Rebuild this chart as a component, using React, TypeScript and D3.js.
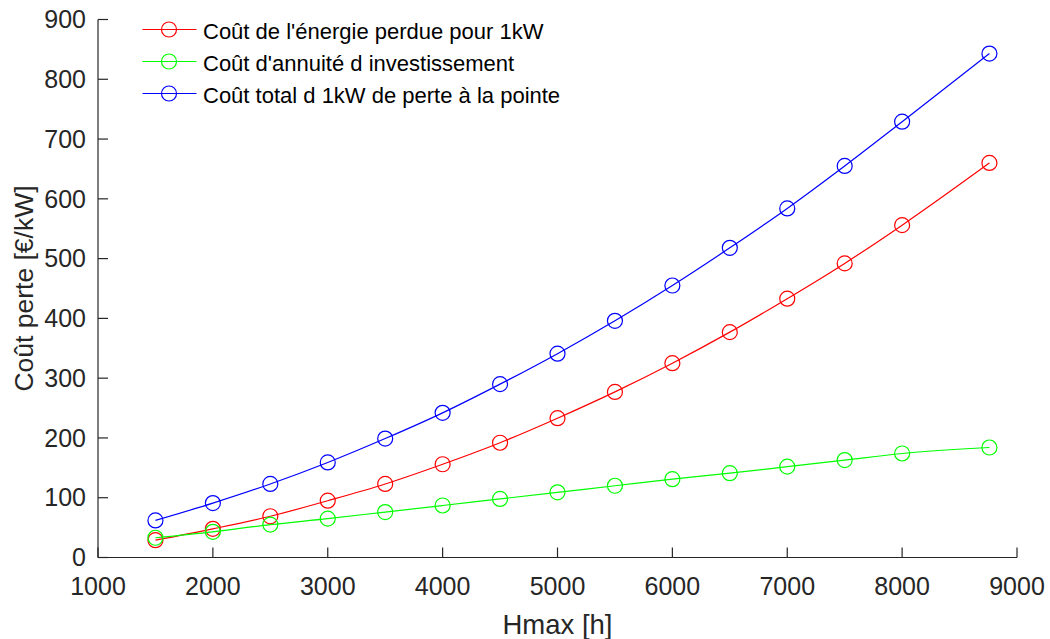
import * as d3 from "d3";

const hours = [1500, 2000, 2500, 3000, 3500, 4000, 4500, 5000, 5500, 6000, 6500, 7000, 7500, 8000, 8760];
const energyCost = [29, 48, 69, 95, 123, 156, 192, 233, 277, 325, 377, 433, 492, 556, 660];
const annuityCost = [33, 43, 55, 65, 76, 87, 98, 109, 120, 131, 141, 152, 163, 174, 184];
const totalCost = [62, 91, 123, 159, 199, 242, 290, 341, 396, 455, 518, 584, 655, 729, 843];

const xTicks = [1000, 2000, 3000, 4000, 5000, 6000, 7000, 8000, 9000];
const yTicks = [0, 100, 200, 300, 400, 500, 600, 700, 800, 900];

const series = [
  { name: "Coût de l'énergie perdue pour 1kW", color: "#ff0000", values: energyCost },
  { name: "Coût d'annuité d investissement", color: "#00ff00", values: annuityCost },
  { name: "Coût total d 1kW de perte à la pointe", color: "#0000ff", values: totalCost },
];

const AXIS = "#262626";
const FONT = "Liberation Sans, Arial, sans-serif";

export default function App() {
  const W = 1050, H = 639;
  const x = d3.scaleLinear().domain([1000, 9000]).range([98, 1017]);
  const y = d3.scaleLinear().domain([0, 900]).range([557.5, 19.5]);
  const line = d3.line<number>()
    .x((_, i) => x(hours[i]))
    .y((v) => y(v))
    .curve(d3.curveMonotoneX);

  return (
    <svg width={W} height={H} style={{ position: "absolute", left: 0, top: 0, background: "#fff" }}
         fontFamily={FONT}>
      {/* axes */}
      <line x1={x(1000)} x2={x(9000)} y1={y(0)} y2={y(0)} stroke={AXIS} strokeWidth={1.2} />
      <line x1={x(1000)} x2={x(1000)} y1={y(0)} y2={y(900)} stroke={AXIS} strokeWidth={1.2} />
      {xTicks.map((t) => (
        <g key={t}>
          <line x1={x(t)} x2={x(t)} y1={y(0)} y2={y(0) - 10} stroke={AXIS} strokeWidth={1.2} />
          <text x={x(t)} y={594.5} textAnchor="middle" fontSize={25} fill={AXIS}>{t}</text>
        </g>
      ))}
      {yTicks.map((t) => (
        <g key={t}>
          <line x1={x(1000)} x2={x(1000) + 10} y1={y(t)} y2={y(t)} stroke={AXIS} strokeWidth={1.2} />
          <text x={x(1000) - 12} y={y(t)} dy="0.35em" textAnchor="end" fontSize={25} fill={AXIS}>{t}</text>
        </g>
      ))}
      <text x={(x(1000) + x(9000)) / 2} y={634} textAnchor="middle" fontSize={27.5} fill={AXIS}>Hmax [h]</text>
      <text transform={`translate(33,${(y(0) + y(900)) / 2}) rotate(-90)`} textAnchor="middle"
            fontSize={26.5} fill={AXIS}>Coût perte [€/kW]</text>

      {/* series */}
      {series.map((s) => (
        <g key={s.name}>
          <path d={line(s.values) ?? ""} fill="none" stroke={s.color} strokeWidth={1.2} />
          {s.values.map((v, i) => (
            <circle key={i} cx={x(hours[i])} cy={y(v)} r={7.5} fill="none" stroke={s.color} strokeWidth={1.2} />
          ))}
        </g>
      ))}

      {/* legend */}
      {series.map((s, i) => {
        const ly = 29.5 + i * 32;
        return (
          <g key={s.name}>
            <line x1={142.5} x2={196.5} y1={ly} y2={ly} stroke={s.color} strokeWidth={1.2} />
            <circle cx={169} cy={ly} r={7.5} fill="none" stroke={s.color} strokeWidth={1.2} />
            <text x={203} y={ly + 1.5} dy="0.35em" fontSize={22} fill="#000">{s.name}</text>
          </g>
        );
      })}
    </svg>
  );
}
